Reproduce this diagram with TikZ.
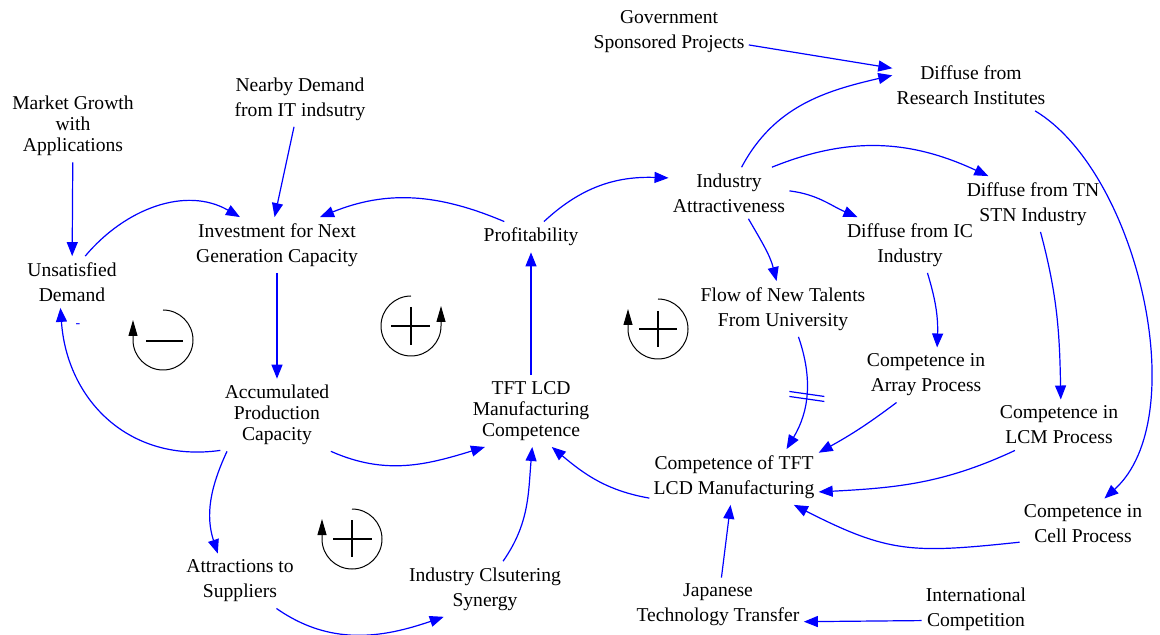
\documentclass[tikz,border=0pt]{standalone}
\usepackage{fontspec}
\setmainfont{Liberation Serif}
\usetikzlibrary{arrows.meta,calc}

\begin{document}
\begin{tikzpicture}[x=0.5pt, y=0.5pt,
        var/.style={align=center, inner xsep=2pt, inner ysep=3pt, font=\fontsize{9.8}{12.5}\selectfont},
        var3/.style={var, font=\fontsize{9.8}{10.5}\selectfont},
        link/.style={blue, line width=0.6pt, -{Triangle[length=7pt, width=5.5pt]}},
        looparc/.style={black, line width=0.5pt, -{Triangle[length=8pt, width=4.5pt]}},
        loopsign/.style={black, line width=1.4pt}]
        \useasboundingbox (0,0) rectangle (1160,-635);

        \node[var] (govt) at (669,-32) {Government\\Sponsored Projects};
        \node[var] (research) at (971,-85) {Diffuse from\\Research Institutes};
        \node[var3] (growth) at (73,-126) {Market Growth\\with\\Applications};
        \node[var] (nearby) at (300,-99) {Nearby Demand\\from IT indsutry};
        \node[var] (unsat) at (72,-282) {Unsatisfied\\Demand};
        \node[var] (invest) at (277,-245) {Investment for Next\\Generation Capacity};
        \node[var] (profit) at (531,-237) {Profitability};
        \node[var] (attract) at (729,-193) {Industry\\Attractiveness};
        \node[var] (tnstn) at (1033,-204) {Diffuse from TN\\STN Industry};
        \node[var] (icind) at (910,-245) {Diffuse from IC\\Industry};
        \node[var] (talent) at (783,-309) {Flow of New Talents\\From University};
        \node[var] (array) at (926,-375) {Competence in\\Array Process};
        \node[var] (lcm) at (1059,-425) {Competence in\\LCM Process};
        \node[var3] (capacity) at (277,-415) {Accumulated\\Production\\Capacity};
        \node[var3] (tftcomp) at (531,-411) {TFT LCD\\Manufacturing\\Competence};
        \node[var] (comp) at (734,-477) {Competence of TFT\\LCD Manufacturing};
        \node[var] (cell) at (1083,-524) {Competence in\\Cell Process};
        \node[var] (suppl) at (240,-581) {Attractions to\\Suppliers};
        \node[var] (cluster) at (485,-589) {Industry Clsutering\\Synergy};
        \node[var] (japan) at (718,-605) {Japanese\\Technology Transfer};
        \node[var] (intl) at (976,-609) {International\\Competition};

        \draw[link] (growth) -- (unsat);
        \draw[link] (unsat.63) to[out=50, in=150] (invest.143);
        \draw[link] (nearby) -- (invest.95);
        \draw[link] (profit.150) to[out=157, in=22] (invest.33);
        \draw[link] (invest) -- (capacity);
        \draw[link] (capacity.-34) to[out=-24, in=197] (tftcomp.218);
        \draw[link] (tftcomp) -- (profit);
        \draw[link] (profit.50) to[out=43, in=178] (attract.166);
        \draw[link] (attract.64) to[out=62, in=193] (research.173);
        \draw[link] (govt) -- (research.168);
        \draw[link] (attract.31) to[out=22, in=155] (tnstn.148);
        \draw[link] (attract.2) to[out=-7, in=157] (icind.152);
        \draw[link] (attract.-53) to[out=-60, in=104] (talent.103);
        \draw[link] (icind.-58) to[out=-73, in=88] (array.68);
        \draw[link] (tnstn.-75) to[out=-75, in=91] (lcm.86);
        \draw[link] (research.-22) to[out=-31, in=42, looseness=0.78] (cell.50);
        \draw[link] (talent.-61) to[out=-71, in=59] coordinate[pos=0.5] (dly) (comp.28);
        \draw[blue, line width=0.6pt] ($(dly)+(-17,3)$) -- ++(35,-5) ($(dly)+(-17,-2)$) -- ++(35,-5);
        \draw[link] (array.223) to[out=217, in=29] (comp.16);
        \draw[link] (lcm.210) to[out=205, in=3] (comp.-10);
        \draw[link] (cell.196) to[out=186, in=333, looseness=1.2] (comp.-25);
        \draw[link] (comp.194) to[out=170, in=320] (tftcomp.-60);
        \draw[link] (japan) -- (comp);
        \draw[link] (intl.192) -- (japan.-11);
        \draw[link] (capacity.212) to[out=188, in=274, looseness=1.1] (unsat.246);
        \node[blue, font=\fontsize{7}{8}\selectfont] (minus) at (78,-326) {-};
        \draw[link] (capacity.216) to[out=245, in=108] (suppl.129);
        \draw[link] (suppl.-37) to[out=-35, in=199] (cluster.214);
        \draw[link] (cluster.57) to[out=55, in=265] (tftcomp.-88);

        \draw[looparc] (163,-310) arc[start angle=90, end angle=-180, radius=30] -- ++(0,20);
        \draw[loopsign] (146,-341) -- (183,-341);
        \draw[looparc] (411,-296) arc[start angle=90, end angle=360, radius=30] -- ++(0,20);
        \draw[loopsign] (391,-326) -- (430,-326) (411,-307) -- (411,-345);
        \draw[looparc] (658,-299) arc[start angle=90, end angle=-180, radius=30] -- ++(0,20);
        \draw[loopsign] (639,-329) -- (677,-329) (658,-311) -- (658,-347);
        \draw[looparc] (352,-509) arc[start angle=90, end angle=-180, radius=30] -- ++(0,20);
        \draw[loopsign] (333,-539) -- (372,-539) (352,-520) -- (352,-557);
\end{tikzpicture}
\end{document}
